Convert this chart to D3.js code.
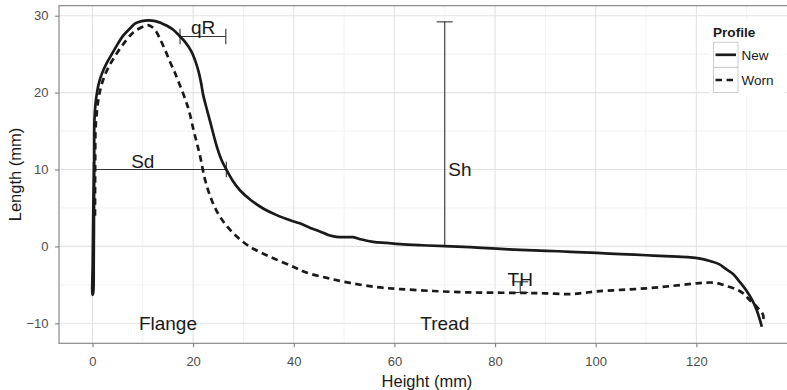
<!DOCTYPE html>
<html><head><meta charset="utf-8">
<script src="https://cdn.jsdelivr.net/npm/d3@7"></script>
<style>body{margin:0;background:#fff}svg{display:block;font-family:"Liberation Sans",Arial,Helvetica,sans-serif}</style>
</head><body>
<script>
// ---- data ----
const newX = [0.3,0.15,0.05,0.0,0.15,0.25,0.3,0.35,0.35,0.4,0.6,0.9,1.3,1.9,2.8,3.85,5.0,6.1,7.4,8.5,9.8,11.1,12.5,13.8,14.8,16,17.1,18.4,19.7,20.5,21.1,21.6,22.0,22.7,23.4,24.7,25.6,26.6,27.9,29.3,31.5,34.0,36.5,39.3,41.2,43.3,45.2,47,48.5,50.5,51.8,53.5,55.8,58.5,61.1,65.5,70,75,80.3,85,90.2,95,100.2,105,110.1,115,118.7,120.5,122.7,124.5,125.8,127.3,128.6,130,131.1,132,132.6,133];
const newY = [11,4,-2,-6.3,-6.0,-2,4,10,14,16.5,18.5,20,21.3,22.5,23.8,25.0,26.3,27.4,28.3,29.0,29.3,29.4,29.3,29.0,28.7,28.2,27.5,26.6,25.3,24.0,22.7,21.2,19.7,17.9,16.2,13.0,11.3,10.0,8.5,7.3,6.0,4.9,4.1,3.4,3.0,2.4,1.95,1.45,1.25,1.2,1.2,0.9,0.6,0.45,0.3,0.15,0.03,-0.1,-0.3,-0.45,-0.57,-0.7,-0.85,-1.0,-1.15,-1.3,-1.42,-1.55,-1.9,-2.3,-2.9,-3.6,-4.6,-5.8,-7.0,-8.3,-9.5,-10.45];
const wornX = [0.5,0.52,0.55,0.6,0.8,1.15,1.6,2.3,3.2,4.25,5.45,6.7,7.9,9.2,10.5,11.2,11.9,12.6,13.4,14.4,15.4,16.3,17.1,18.4,19.2,20.1,20.8,21.4,22.4,23.7,25.4,28,31.3,35.3,39.9,42.5,46.6,51.2,56.5,61.1,67.7,73,77,85.6,90,94.9,97.5,100.2,105,110.1,115,120,122,124,126,128,129.3,130.5,132,133.3,133.1];
const wornY = [4,8,12,15,17,19,20.5,22,23.3,24.5,25.7,26.8,27.7,28.3,28.7,28.75,28.5,28.0,27.0,25.6,24.0,22.7,21.4,19.2,17.6,15.1,13.3,11.7,8.6,6.0,3.8,1.7,-0.05,-1.35,-2.65,-3.4,-4.1,-4.75,-5.3,-5.55,-5.8,-5.95,-6.0,-6.05,-6.1,-6.2,-6.05,-5.85,-5.65,-5.45,-5.15,-4.8,-4.7,-4.75,-5.15,-5.6,-6.1,-6.9,-7.85,-9.0,-10];
const seriesNames = ["New","Worn"];
const xTicks = [0,20,40,60,80,100,120];
const yTicks = [-10,0,10,20,30];
const xMinor = [10,30,50,70,90,110,130];
const yMinor = [-5,5,15,25];
// horizontal measures (qR, Sd)
const hBarY = [27.3,10];
const hBarXmin = [17.4,0.3];
const hBarXmax = [26.5,26.6];
// vertical measures (Sh, TH)
const vBarX = [70,85];
const vBarYmin = [0,-6.0];
const vBarYmax = [29.2,-4.6];
// text annotations
const annoLabels = ["qR","Sd","Sh","TH","Flange","Tread"];
const annoX = [22,10,73,85,15,70];
const annoY = [28.5,11,10,-4.3,-10,-10];

// ---- drawing ----
const W = 787, H = 390;
const L = 59, R = 795, T = 5.7, B = 343.3;
const svg = d3.select("body").append("svg").attr("width", W).attr("height", H);
const x = d3.scaleLinear().domain([-6.65, 139.6]).range([L, R]);
const y = d3.scaleLinear().domain([-12.6, 31.3]).range([B, T]);

const g = svg.append("g");
// grid
g.selectAll(".xm").data(xMinor).join("line").attr("x1", d=>x(d)).attr("x2", d=>x(d)).attr("y1", T).attr("y2", B).attr("stroke", "#f2f2f2").attr("stroke-width", 1);
g.selectAll(".ym").data(yMinor).join("line").attr("y1", d=>y(d)).attr("y2", d=>y(d)).attr("x1", L).attr("x2", R).attr("stroke", "#f2f2f2").attr("stroke-width", 1);
g.selectAll(".xM").data(xTicks).join("line").attr("x1", d=>x(d)).attr("x2", d=>x(d)).attr("y1", T).attr("y2", B).attr("stroke", "#e3e3e3").attr("stroke-width", 1.1);
g.selectAll(".yM").data(yTicks).join("line").attr("y1", d=>y(d)).attr("y2", d=>y(d)).attr("x1", L).attr("x2", R).attr("stroke", "#e3e3e3").attr("stroke-width", 1.1);

// annotation bars
const ac = "#333", aw = 1.1;
hBarY.forEach((yy,i)=>{
  g.append("line").attr("x1", x(hBarXmin[i])).attr("x2", x(hBarXmax[i])).attr("y1", y(yy)).attr("y2", y(yy)).attr("stroke", ac).attr("stroke-width", aw);
  [hBarXmin[i], hBarXmax[i]].forEach(xx=>{
    g.append("line").attr("x1", x(xx)).attr("x2", x(xx)).attr("y1", y(yy+1)).attr("y2", y(yy-1)).attr("stroke", ac).attr("stroke-width", aw);
  });
});
vBarX.forEach((xx,i)=>{
  g.append("line").attr("x1", x(xx)).attr("x2", x(xx)).attr("y1", y(vBarYmin[i])).attr("y2", y(vBarYmax[i])).attr("stroke", ac).attr("stroke-width", aw);
  [vBarYmin[i], vBarYmax[i]].forEach(yy=>{
    g.append("line").attr("x1", x(xx-1.6)).attr("x2", x(xx+1.6)).attr("y1", y(yy)).attr("y2", y(yy)).attr("stroke", ac).attr("stroke-width", aw);
  });
});

// profiles
const line = d3.line().x(d=>x(d[0])).y(d=>y(d[1])).curve(d3.curveCatmullRom.alpha(0.5));
g.append("path").attr("d", line(d3.zip(wornX, wornY))).attr("fill","none").attr("stroke","#1a1a1a").attr("stroke-width",2.7).attr("stroke-dasharray","6.5,4.5");
g.append("path").attr("d", line(d3.zip(newX, newY))).attr("fill","none").attr("stroke","#1a1a1a").attr("stroke-width",2.7).attr("stroke-linejoin","round");

// annotation texts
g.selectAll(".anno").data(annoLabels).join("text")
  .attr("x", (d,i)=>x(annoX[i])).attr("y", (d,i)=>y(annoY[i]))
  .attr("text-anchor","middle").attr("dominant-baseline","central")
  .attr("font-size", 19).attr("fill","#1a1a1a").text(d=>d);

// legend
const lg = svg.append("g");
lg.append("rect").attr("x", 709).attr("y", 19).attr("width", 76).attr("height", 76).attr("fill","#fff");
lg.append("text").attr("x", 713).attr("y", 32).attr("dominant-baseline","central").attr("font-size", 13.6).attr("font-weight","bold").attr("fill","#1a1a1a").text("Profile");
seriesNames.forEach((n,i)=>{
  const ky = 42.3 + i*25.2;
  lg.append("rect").attr("x", 713.5).attr("y", ky).attr("width", 24.5).attr("height", 25).attr("fill","#fff").attr("stroke","#cccccc").attr("stroke-width",1);
  lg.append("line").attr("x1", 715.5).attr("x2", 736).attr("y1", ky+12.5).attr("y2", ky+12.5).attr("stroke","#1a1a1a").attr("stroke-width",2.7).attr("stroke-dasharray", i===1 ? "6.5,4.5" : null);
  lg.append("text").attr("x", 741.5).attr("y", ky+12.8).attr("dominant-baseline","central").attr("font-size", 13.5).attr("fill","#1a1a1a").text(n);
});

// panel border
svg.append("rect").attr("x", L).attr("y", T).attr("width", R-L).attr("height", B-T).attr("fill","none").attr("stroke","#7f7f7f").attr("stroke-width",1.1);

// axes
const xa = svg.append("g").attr("transform", `translate(0,${B})`)
  .call(d3.axisBottom(x).tickValues(xTicks).tickSize(4).tickPadding(9).tickFormat(d3.format("d")));
const ya = svg.append("g").attr("transform", `translate(${L},0)`)
  .call(d3.axisLeft(y).tickValues(yTicks).tickSize(4).tickPadding(6.5).tickFormat(d=> d<0 ? "\u2212"+Math.abs(d) : d));
[xa, ya].forEach(a=>{
  a.select(".domain").remove();
  a.selectAll(".tick line").attr("stroke","#7f7f7f").attr("stroke-width",1.1);
  a.selectAll(".tick text").attr("font-size", 13).attr("fill","#4d4d4d").attr("font-family","Liberation Sans, Arial, sans-serif");
});

svg.append("text").attr("x", (L+R)/2).attr("y", 381).attr("text-anchor","middle").attr("dominant-baseline","central").attr("font-size", 16.5).attr("fill","#1a1a1a").text("Height (mm)");
svg.append("text").attr("transform", `translate(15,${(T+B)/2}) rotate(-90)`).attr("text-anchor","middle").attr("dominant-baseline","central").attr("font-size", 16.5).attr("fill","#1a1a1a").text("Length (mm)");
</script>
</body></html>
